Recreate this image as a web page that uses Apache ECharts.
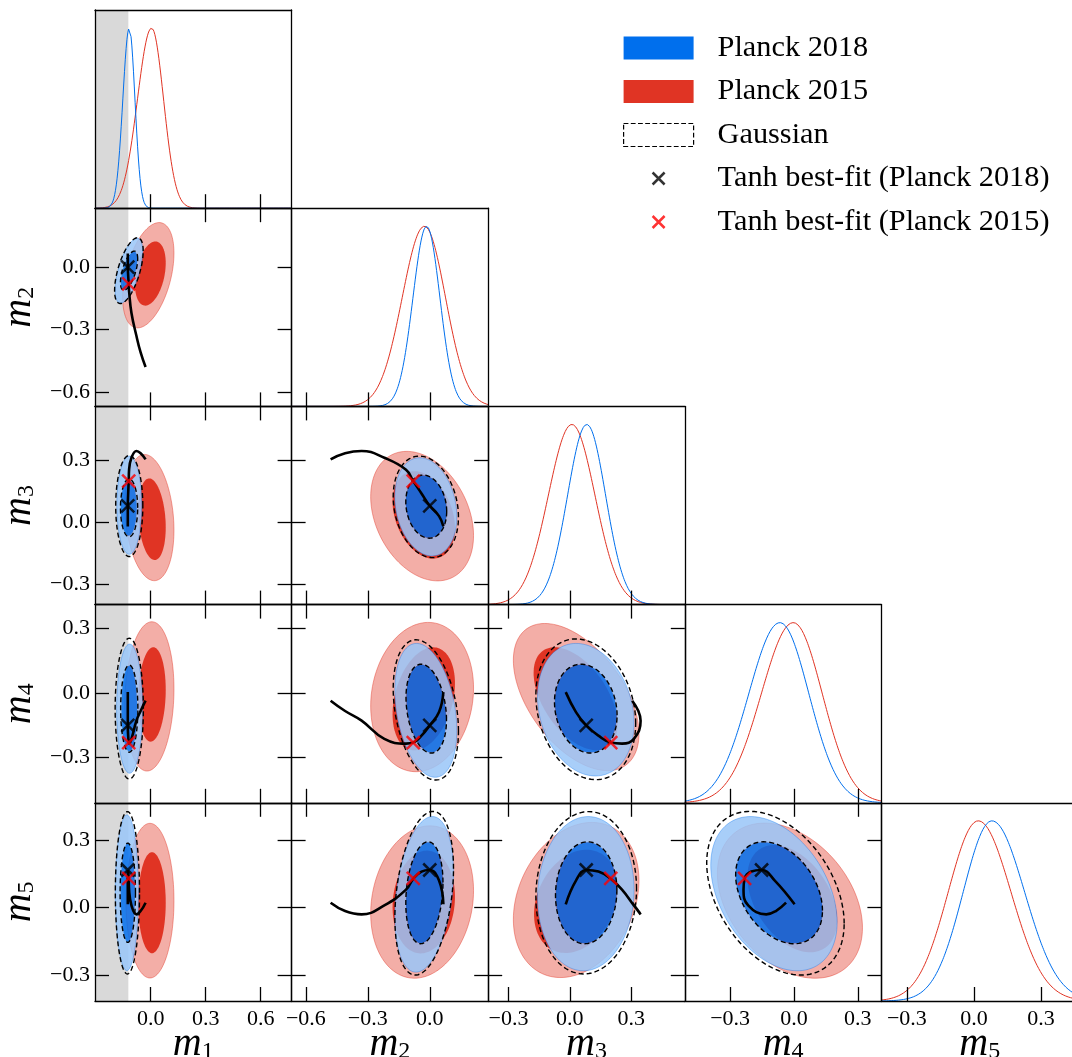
<!DOCTYPE html>
<html><head><meta charset="utf-8">
<script src="https://cdn.jsdelivr.net/npm/echarts@6/dist/echarts.min.js"></script>
<style>html,body{margin:0;padding:0;background:#fff}#c{width:1072px;height:1057px}</style>
</head><body><div id="c"></div><script>
const SERIF = "'Liberation Serif','DejaVu Serif',serif";
const PARAMS = ['m1','m2','m3','m4','m5'];
const RANGES = [[-0.304,0.769],[-0.669,0.283],[-0.399,0.562],[-0.513,0.411],[-0.414,0.465]];
const TICKS = [[0,0.3,0.6],[-0.6,-0.3,0],[-0.3,0,0.3],[-0.3,0,0.3],[-0.3,0,0.3]];
const M1_PRIOR_MIN = -0.122;

// 1D marginals: [peak, sigma left, sigma right]
const MARG_2018 = [[-0.117,0.035,0.031],[-0.015,0.066,0.064],[0.083,0.094,0.092],[-0.066,0.146,0.136],[0.08,0.128,0.146]];
const MARG_2015 = [[0.005,0.077,0.065],[-0.026,0.107,0.102],[0.01,0.115,0.113],[-0.003,0.15,0.136],[0.019,0.134,0.146]];

// 2D panels (x parameter index, y parameter index)
const PAIRS = [[0,1],[0,2],[0,3],[0,4],[1,2],[1,3],[1,4],[2,3],[2,4],[3,4]];
// contours: [centre x, centre y, half-width x, half-height y, tilt]
const P2015_OUT = [[-0.013,-0.039,0.140,0.253,0.42],[-0.007,0.023,0.134,0.306,-0.2],[-0.007,-0.017,0.134,0.348,0.1],[-0.004,0.031,0.131,0.343,0],[-0.037,0.030,0.249,0.314,-0.3],[-0.037,-0.02,0.249,0.348,0.12],[-0.037,0.025,0.249,0.338,0.15],[0.031,-0.02,0.307,0.343,-0.5],[0.031,0.034,0.307,0.344,0.25],[-0.019,0.031,0.341,0.344,-0.35]];
const P2015_IN = [[-0.002,-0.031,0.084,0.154,0.33],[0.007,0.015,0.075,0.198,-0.2],[0.007,-0.008,0.075,0.22,0.1],[0.007,0.022,0.075,0.224,0],[-0.029,0.036,0.151,0.212,-0.3],[-0.029,-0.028,0.151,0.24,0.3],[-0.029,0.025,0.151,0.228,0.1],[0.028,-0.028,0.205,0.24,-0.5],[0.03,0.028,0.205,0.229,0.25],[-0.008,0.04,0.211,0.238,-0.4]];
const P2018_OUT = [[-0.119,-0.017,0.075,0.156,0.6],[-0.117,0.083,0.068,0.238,0],[-0.115,-0.074,0.071,0.301,0],[-0.13,0.066,0.063,0.345,0],[-0.019,0.075,0.15,0.238,-0.2],[-0.019,-0.082,0.15,0.312,-0.3],[-0.027,0.059,0.142,0.345,0.28],[0.078,-0.079,0.236,0.309,-0.2],[0.078,0.062,0.236,0.342,0.05],[-0.094,0.062,0.297,0.342,-0.37]];
const P2018_IN = [[-0.118,-0.017,0.045,0.092,0.6],[-0.12,0.07,0.044,0.135,0],[-0.117,-0.074,0.043,0.2,0],[-0.125,0.066,0.039,0.22,0],[-0.017,0.076,0.099,0.151,-0.15],[-0.017,-0.074,0.096,0.205,-0.25],[-0.026,0.066,0.089,0.224,0.2],[0.078,-0.074,0.151,0.205,-0.15],[0.08,0.066,0.149,0.224,0.05],[-0.07,0.066,0.204,0.224,-0.35]];
const GAUSS_OUT = [[-0.119,-0.017,0.078,0.158,0.6],[-0.117,0.079,0.074,0.245,0],[-0.117,-0.074,0.077,0.328,0],[-0.127,0.066,0.066,0.36,0],[-0.019,0.075,0.158,0.246,-0.2],[-0.019,-0.08,0.158,0.327,-0.3],[-0.027,0.064,0.142,0.363,0.3],[0.078,-0.077,0.244,0.328,-0.2],[0.08,0.066,0.246,0.36,0.05],[-0.087,0.064,0.323,0.363,-0.37]];
const GAUSS_IN = [[-0.118,-0.017,0.047,0.094,0.6],[-0.118,0.07,0.047,0.14,0],[-0.117,-0.074,0.047,0.203,0],[-0.125,0.066,0.042,0.22,0],[-0.017,0.076,0.099,0.153,-0.15],[-0.017,-0.074,0.098,0.207,-0.25],[-0.026,0.066,0.09,0.226,0.2],[0.078,-0.074,0.153,0.207,-0.15],[0.08,0.066,0.15,0.226,0.05],[-0.07,0.066,0.204,0.226,-0.35]];

// tanh model trajectory through (m1..m5)
const TANH_PATH = [
  [-0.125, 0.066,-0.02, 0.003, 0.015],
  [-0.125, 0.045, 0.03,-0.09, 0.12],
  [-0.125, 0.0, 0.08,-0.152, 0.167],
  [-0.123,-0.04, 0.14,-0.2, 0.16],
  [-0.12,-0.08, 0.2,-0.232, 0.128],
  [-0.118,-0.115, 0.255,-0.237, 0.08],
  [-0.105,-0.22, 0.313,-0.215, 0.01],
  [-0.078,-0.33, 0.346,-0.13,-0.03],
  [-0.055,-0.41, 0.335,-0.085,-0.015],
  [-0.028,-0.48, 0.305,-0.037, 0.022]
];
const BEST_2018 = [-0.125, 0.0, 0.08, -0.152, 0.167];
const BEST_2015 = [-0.12, -0.08, 0.2, -0.232, 0.13];

const LEG = ['Planck 2018','Planck 2015','Gaussian','Tanh best-fit (Planck 2018)','Tanh best-fit (Planck 2015)'];

const PW = 196.6, PH = 198.2, L0 = 95, T0 = 10;
const fmt = v => (v < -1e-9 ? '\u2212' : '') + Math.abs(v).toFixed(1);
const nameOf = v => '{m|m}{s|' + (v + 1) + '}';
const nameStyleX = {rich:{
  m:{fontFamily:SERIF, fontStyle:'italic', fontSize:40, lineHeight:40, color:'#000'},
  s:{fontFamily:SERIF, fontSize:24, lineHeight:34, verticalAlign:'bottom', color:'#000'}
}};
const nameStyleY = {rich:{
  m:{fontFamily:SERIF, fontStyle:'italic', fontSize:40, lineHeight:40, color:'#000'},
  s:{fontFamily:SERIF, fontSize:24, lineHeight:28, verticalAlign:'bottom', color:'#000'}
}};
const lineS = {color:'#000', width:1.3};

function mkX(g, v, pos, labels, ticks) {
  return {type:'value', gridIndex:g, position:pos, min:RANGES[v][0], max:RANGES[v][1], z:10,
    axisLine:{show:true, onZero:false, lineStyle:lineS},
    axisTick:{show:ticks, inside:true, length:14, customValues:TICKS[v], lineStyle:lineS},
    axisLabel:{show:labels, customValues:TICKS[v], formatter:fmt, margin:7, fontFamily:SERIF, fontSize:22, color:'#000'},
    splitLine:{show:false},
    name: labels ? nameOf(v) : '', nameLocation:'middle', nameGap:23, nameMoveOverlap:false, nameTextStyle:nameStyleX};
}
function mkY(g, v, pos, labels) {
  return {type:'value', gridIndex:g, position:pos, min:RANGES[v][0], max:RANGES[v][1], z:10,
    axisLine:{show:true, onZero:false, lineStyle:lineS},
    axisTick:{show:true, inside:true, length:14, customValues:TICKS[v], lineStyle:lineS},
    axisLabel:{show:labels, customValues:TICKS[v], formatter:fmt, margin:5, fontFamily:SERIF, fontSize:22, color:'#000'},
    splitLine:{show:false},
    name: labels ? nameOf(v) : '', nameLocation:'middle', nameGap:56, nameRotate:90, nameTextStyle:nameStyleY};
}
function mkYdiag(g, pos) {
  return {type:'value', gridIndex:g, position:pos, min:0, max:1.1, z:10,
    axisLine:{show:true, onZero:false, lineStyle:lineS}, axisTick:{show:false}, axisLabel:{show:false}, splitLine:{show:false}};
}

const grids = [], xAxes = [], yAxes = [], series = [], panels = {};
for (let j = 0; j < 5; j++) for (let i = 0; i <= j; i++) {
  const g = grids.length;
  grids.push({left:L0 + i*PW, top:T0 + j*PH, width:PW, height:PH, show:false, containLabel:false, outerBoundsMode:'none'});
  const diag = i === j;
  const xi = xAxes.length, yi = yAxes.length;
  xAxes.push(mkX(g, i, 'bottom', j === 4, true));
  xAxes.push(mkX(g, i, 'top', false, !diag));
  if (diag) { yAxes.push(mkYdiag(g, 'left')); yAxes.push(mkYdiag(g, 'right')); }
  else { yAxes.push(mkY(g, j, 'left', i === 0)); yAxes.push(mkY(g, j, 'right', false)); }
  panels[i + '-' + j] = {xAxisIndex:xi, yAxisIndex:yi, i, j};
}

function ell(e, api, n) {
  n = n || 120;
  const [cx, cy, hx, hy, r] = e, q = Math.sqrt(1 - r*r), pts = [];
  for (let k = 0; k < n; k++) {
    const t = 2*Math.PI*k/n;
    pts.push(api.coord([cx + hx*Math.cos(t), cy + hy*(r*Math.cos(t) + q*Math.sin(t))]));
  }
  return pts;
}
const toPath = pts => 'M' + pts.map(p => p[0].toFixed(2) + ',' + p[1].toFixed(2)).join('L') + 'Z';
const base = p => ({xAxisIndex:p.xAxisIndex, yAxisIndex:p.yAxisIndex, clip:true, silent:true, animation:false, data:[[0,0]]});

// grey prior band in the m1 column
for (let j = 0; j < 5; j++) {
  const p = panels['0-' + j];
  const yr = j === 0 ? [0, 1.1] : RANGES[j];
  series.push(Object.assign(base(p), {type:'custom', name:'prior', z:1, renderItem:(prm, api) => {
    const a = api.coord([RANGES[0][0], yr[1]]), b = api.coord([M1_PRIOR_MIN, yr[0]]);
    return {type:'rect', shape:{x:a[0], y:a[1], width:b[0]-a[0], height:b[1]-a[1]}, style:{fill:'#d9d9d9'}};
  }}));
}

PAIRS.forEach((pr, k) => {
  const p = panels[pr[0] + '-' + pr[1]];
  series.push(Object.assign(base(p), {type:'custom', name:'Planck 2015', z:2, renderItem:(prm, api) => ({type:'group', children:[
    {type:'polygon', shape:{points:ell(P2015_OUT[k], api)}, style:{fill:'#F3AEA7', stroke:'rgba(224,52,36,0.55)', lineWidth:0.8}},
    {type:'polygon', shape:{points:ell(P2015_IN[k], api)}, style:{fill:'#E03424'}}
  ]})}));
  series.push(Object.assign(base(p), {type:'custom', name:'Planck 2018', z:3, renderItem:(prm, api) => {
    const o = ell(P2018_OUT[k], api), inn = ell(P2018_IN[k], api);
    return {type:'group', children:[
      {type:'path', shape:{pathData: toPath(o) + toPath(inn.slice().reverse())}, style:{fill:'rgba(153,197,248,0.85)'}},
      {type:'polygon', shape:{points:inn}, style:{fill:'rgba(0,111,237,0.85)'}},
      {type:'polygon', shape:{points:o}, style:{fill:'none', stroke:'rgba(0,111,237,0.45)', lineWidth:0.8}}
    ]};
  }}));
  series.push(Object.assign(base(p), {type:'custom', name:'Gaussian', z:4, renderItem:(prm, api) => ({type:'group', children:[
    {type:'polygon', shape:{points:ell(GAUSS_OUT[k], api)}, style:{fill:'none', stroke:'#000', lineWidth:1.4, lineDash:[5,3]}},
    {type:'polygon', shape:{points:ell(GAUSS_IN[k], api)}, style:{fill:'none', stroke:'#000', lineWidth:1.4, lineDash:[5,3]}}
  ]})}));
  series.push({type:'line', name:'tanh trajectory', xAxisIndex:p.xAxisIndex, yAxisIndex:p.yAxisIndex, z:5, silent:true,
    data:TANH_PATH.map(q => [q[pr[0]], q[pr[1]]]), smooth:0.45, showSymbol:false, symbol:'none',
    lineStyle:{color:'#000', width:2.6}});
});

// 1D marginal curves on the diagonal
function marg(v, m) {
  const out = [], [lo, hi] = RANGES[v], n = 240;
  for (let k = 0; k <= n; k++) {
    const x = lo + (hi - lo)*k/n, s = x < m[0] ? m[1] : m[2];
    out.push([x, Math.exp(-0.5*Math.pow((x - m[0])/s, 2))]);
  }
  return out;
}
for (let v = 0; v < 5; v++) {
  const p = panels[v + '-' + v];
  series.push({type:'line', name:'Planck 2015 1D', xAxisIndex:p.xAxisIndex, yAxisIndex:p.yAxisIndex, z:5, silent:true,
    data:marg(v, MARG_2015[v]), showSymbol:false, symbol:'none', lineStyle:{color:'#E03424', width:1}});
  series.push({type:'line', name:'Planck 2018 1D', xAxisIndex:p.xAxisIndex, yAxisIndex:p.yAxisIndex, z:5, silent:true,
    data:marg(v, MARG_2018[v]), showSymbol:false, symbol:'none', lineStyle:{color:'#006FED', width:1}});
}

// best-fit crosses
const XSYM = 'path://M0,0L10,10M10,0L0,10';
PAIRS.forEach(pr => {
  const p = panels[pr[0] + '-' + pr[1]];
  series.push({type:'scatter', name:LEG[3], xAxisIndex:p.xAxisIndex, yAxisIndex:p.yAxisIndex, z:6, silent:true,
    symbol:XSYM, symbolSize:13, data:[[BEST_2018[pr[0]], BEST_2018[pr[1]]]],
    itemStyle:{color:'rgba(0,0,0,0)', borderColor:'#000', borderWidth:2.5}});
  series.push({type:'scatter', name:LEG[4], xAxisIndex:p.xAxisIndex, yAxisIndex:p.yAxisIndex, z:7, silent:true,
    symbol:XSYM, symbolSize:13, data:[[BEST_2015[pr[0]], BEST_2015[pr[1]]]],
    itemStyle:{color:'rgba(0,0,0,0)', borderColor:'#ff0000', borderWidth:2.5}});
});

const CROSS_ICON = 'path://M0,0L0,0M5.5,5.5L17.5,17.5M17.5,5.5L5.5,17.5M23,23L23,23';
const chart = echarts.init(document.getElementById('c'), null, {renderer:'canvas'});
chart.setOption({
  animation:false,
  backgroundColor:'#fff',
  grid:grids, xAxis:xAxes, yAxis:yAxes, series:series,
  legend:{orient:'vertical', left:623, top:33, padding:0, itemWidth:70, itemHeight:23, itemGap:13.5, selectedMode:false,
    textStyle:{fontFamily:SERIF, fontSize:30.3, color:'#000', lineHeight:23, padding:[0,0,0,19]},
    data:[
      {name:LEG[0], icon:'rect', itemStyle:{color:'#006FED', borderWidth:0}},
      {name:LEG[1], icon:'rect', itemStyle:{color:'#E03424', borderWidth:0}},
      {name:LEG[2], icon:'rect', itemStyle:{color:'rgba(0,0,0,0)', borderColor:'#000', borderWidth:1.2, borderType:'dashed'}},
      {name:LEG[3], icon:CROSS_ICON, itemStyle:{color:'rgba(0,0,0,0)', borderColor:'#000', borderWidth:2.5}},
      {name:LEG[4], icon:CROSS_ICON, itemStyle:{color:'rgba(0,0,0,0)', borderColor:'#ff0000', borderWidth:2.5}}
    ]}
});
</script></body></html>
